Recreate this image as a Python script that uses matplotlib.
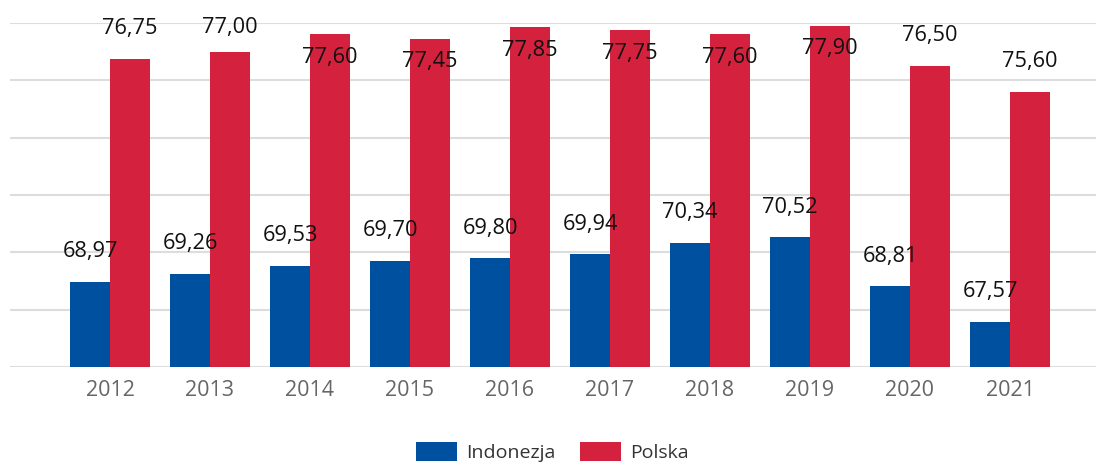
import matplotlib
matplotlib.use("Agg")
import matplotlib.pyplot as plt
import numpy as np

years = ["2012", "2013", "2014", "2015", "2016", "2017", "2018", "2019", "2020", "2021"]
indonezja = [68.97, 69.26, 69.53, 69.70, 69.80, 69.94, 70.34, 70.52, 68.81, 67.57]
polska = [76.75, 77.00, 77.60, 77.45, 77.85, 77.75, 77.60, 77.90, 76.50, 75.60]

BLUE = "#0050a0"
RED = "#d4213d"

plt.rcParams['font.family'] = ['Open Sans', 'DejaVu Sans']

W, H = 1096, 466
fig = plt.figure(figsize=(W / 100, H / 100), dpi=100)
ax = fig.add_axes([10 / W, (H - 367) / H, (1096 - 10) / W, (367 - 23) / H])

x = np.arange(len(years))
bw = 0.4
ax.bar(x - bw / 2, indonezja, width=bw, color=BLUE, label="Indonezja", zorder=3)
ax.bar(x + bw / 2, polska, width=bw, color=RED, label="Polska", zorder=3)

ymin, ymax = 66, 78
ax.set_ylim(ymin, ymax)
ax.set_xlim(-1.0, 9.86)
ax.set_yticks(np.arange(66, 78.1, 2))
ax.yaxis.grid(True, color="#dddddd", linewidth=1.5, zorder=0)
ax.tick_params(axis='y', left=False, labelleft=False)
ax.set_xticks(x)
ax.set_xticklabels(years, color="#666666", fontsize=15.5)
ax.tick_params(axis='x', length=0, pad=9)
for s in ax.spines.values():
    s.set_visible(False)

px_per_unit = 344 / (ymax - ymin)
above = 30 / px_per_unit
inside = 23 / px_per_unit
top_lim = ymax - 4 / px_per_unit


def fmt(v):
    return f"{v:.2f}".replace(".", ",")


def label(xpos, v):
    y = v + above
    if y > top_lim:
        if v >= 77.3:
            y = v - inside
        else:
            y = top_lim
    ax.text(xpos, y, fmt(v), ha="center", va="center", fontsize=15.7, color="#111111", zorder=5)


for i in range(len(years)):
    label(x[i] - bw / 2, indonezja[i])
    label(x[i] + bw / 2, polska[i])

leg = fig.legend(loc="center", bbox_to_anchor=(0.504, 14 / H), ncol=2, frameon=False,
                 fontsize=14, handlelength=2.1, handleheight=1.1, columnspacing=1.3,
                 handletextpad=0.45)
for t in leg.get_texts():
    t.set_color("#333333")

fig.savefig("out.png", dpi=100)
